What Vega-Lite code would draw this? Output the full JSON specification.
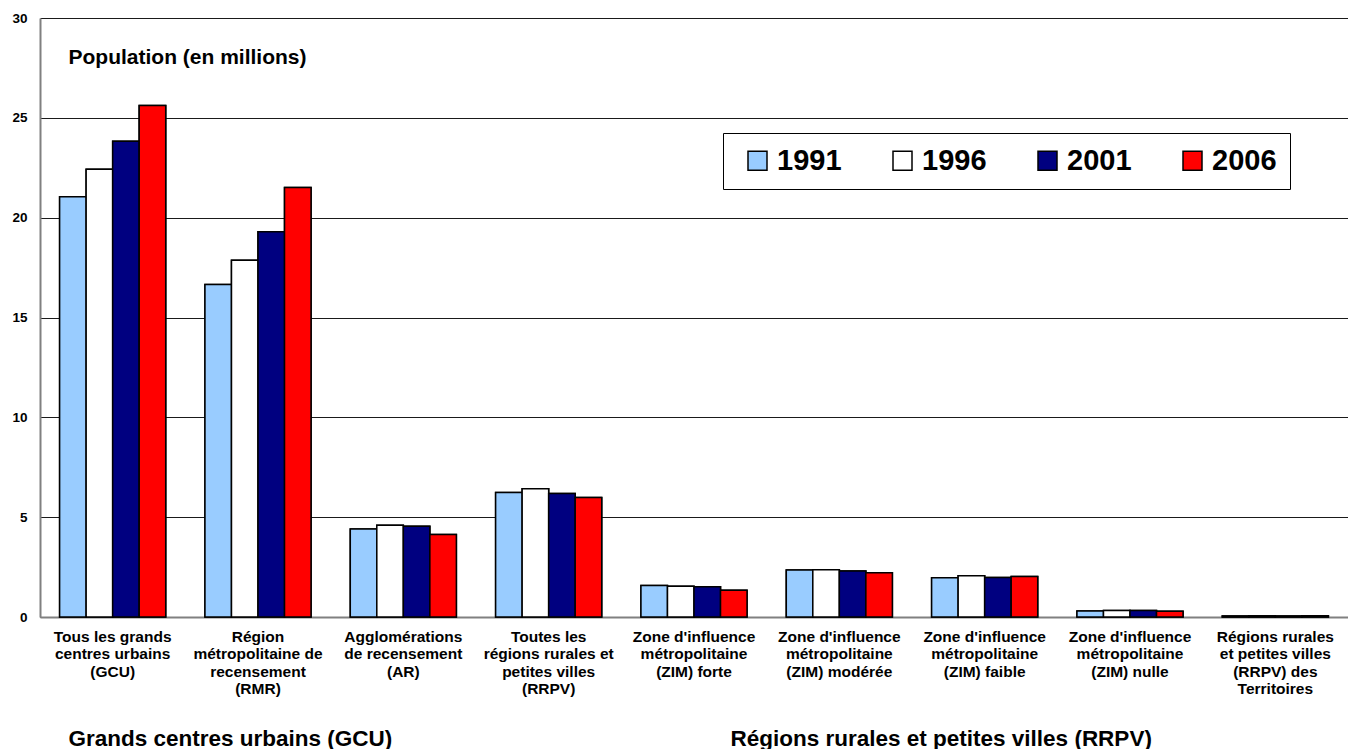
{
  "$schema": "https://vega.github.io/schema/vega-lite/v6.json",
  "width": 1308,
  "height": 599,
  "autosize": {"type": "none"},
  "padding": {"left": 40, "top": 18, "right": 0, "bottom": 132},
  "background": "white",
  "config": {"font": "Liberation Sans", "view": {"stroke": null}},
  "data": {
    "values": [
      {"zone": "Tous les grands|centres urbains|(GCU)", "annee": "1991", "pop": 21.05},
      {"zone": "Tous les grands|centres urbains|(GCU)", "annee": "1996", "pop": 22.43},
      {"zone": "Tous les grands|centres urbains|(GCU)", "annee": "2001", "pop": 23.83},
      {"zone": "Tous les grands|centres urbains|(GCU)", "annee": "2006", "pop": 25.62},
      {"zone": "Région|métropolitaine de|recensement|(RMR)", "annee": "1991", "pop": 16.65},
      {"zone": "Région|métropolitaine de|recensement|(RMR)", "annee": "1996", "pop": 17.87},
      {"zone": "Région|métropolitaine de|recensement|(RMR)", "annee": "2001", "pop": 19.29},
      {"zone": "Région|métropolitaine de|recensement|(RMR)", "annee": "2006", "pop": 21.51},
      {"zone": "Agglomérations|de recensement|(AR)", "annee": "1991", "pop": 4.41},
      {"zone": "Agglomérations|de recensement|(AR)", "annee": "1996", "pop": 4.6},
      {"zone": "Agglomérations|de recensement|(AR)", "annee": "2001", "pop": 4.55},
      {"zone": "Agglomérations|de recensement|(AR)", "annee": "2006", "pop": 4.13},
      {"zone": "Toutes les|régions rurales et|petites villes|(RRPV)", "annee": "1991", "pop": 6.23},
      {"zone": "Toutes les|régions rurales et|petites villes|(RRPV)", "annee": "1996", "pop": 6.42},
      {"zone": "Toutes les|régions rurales et|petites villes|(RRPV)", "annee": "2001", "pop": 6.18},
      {"zone": "Toutes les|régions rurales et|petites villes|(RRPV)", "annee": "2006", "pop": 5.99},
      {"zone": "Zone d'influence|métropolitaine|(ZIM) forte", "annee": "1991", "pop": 1.58},
      {"zone": "Zone d'influence|métropolitaine|(ZIM) forte", "annee": "1996", "pop": 1.54},
      {"zone": "Zone d'influence|métropolitaine|(ZIM) forte", "annee": "2001", "pop": 1.51},
      {"zone": "Zone d'influence|métropolitaine|(ZIM) forte", "annee": "2006", "pop": 1.34},
      {"zone": "Zone d'influence|métropolitaine|(ZIM) modérée", "annee": "1991", "pop": 2.35},
      {"zone": "Zone d'influence|métropolitaine|(ZIM) modérée", "annee": "1996", "pop": 2.37},
      {"zone": "Zone d'influence|métropolitaine|(ZIM) modérée", "annee": "2001", "pop": 2.3},
      {"zone": "Zone d'influence|métropolitaine|(ZIM) modérée", "annee": "2006", "pop": 2.21},
      {"zone": "Zone d'influence|métropolitaine|(ZIM) faible", "annee": "1991", "pop": 1.96},
      {"zone": "Zone d'influence|métropolitaine|(ZIM) faible", "annee": "1996", "pop": 2.06},
      {"zone": "Zone d'influence|métropolitaine|(ZIM) faible", "annee": "2001", "pop": 1.98},
      {"zone": "Zone d'influence|métropolitaine|(ZIM) faible", "annee": "2006", "pop": 2.03},
      {"zone": "Zone d'influence|métropolitaine|(ZIM) nulle", "annee": "1991", "pop": 0.3},
      {"zone": "Zone d'influence|métropolitaine|(ZIM) nulle", "annee": "1996", "pop": 0.33},
      {"zone": "Zone d'influence|métropolitaine|(ZIM) nulle", "annee": "2001", "pop": 0.33},
      {"zone": "Zone d'influence|métropolitaine|(ZIM) nulle", "annee": "2006", "pop": 0.29},
      {"zone": "Régions rurales|et petites villes|(RRPV) des|Territoires", "annee": "1991", "pop": 0.05},
      {"zone": "Régions rurales|et petites villes|(RRPV) des|Territoires", "annee": "1996", "pop": 0.06},
      {"zone": "Régions rurales|et petites villes|(RRPV) des|Territoires", "annee": "2001", "pop": 0.05},
      {"zone": "Régions rurales|et petites villes|(RRPV) des|Territoires", "annee": "2006", "pop": 0.06}
    ]
  },
  "encoding": {
    "xOffset": {"field": "annee", "type": "nominal", "sort": ["1991", "1996", "2001", "2006"]},
    "y": {
      "field": "pop",
      "type": "quantitative",
      "scale": {"domain": [0, 30], "nice": false},
      "axis": {
        "values": [0, 5, 10, 15, 20, 25, 30],
        "grid": true,
        "gridColor": "#1a1a1a",
        "gridWidth": 1,
        "ticks": false,
        "labelPadding": 13,
        "labelFontSize": 13.5,
        "labelFontWeight": "bold",
        "labelColor": "black",
        "domainColor": "#808080",
        "domainWidth": 2,
        "title": "Population (en millions)",
        "titleAngle": 0,
        "titleX": 28,
        "titleY": 39,
        "titleAlign": "left",
        "titleBaseline": "middle",
        "titleFontSize": 21,
        "titleFontWeight": "bold",
        "titleColor": "black"
      }
    },
    "fill": {
      "field": "annee",
      "type": "nominal",
      "scale": {
        "domain": ["1991", "1996", "2001", "2006"],
        "range": ["#99CCFF", "#FFFFFF", "#000080", "#FF0000"]
      },
      "legend": {
        "title": null,
        "orient": "none",
        "legendX": 683,
        "legendY": 115,
        "direction": "horizontal",
        "columns": 4,
        "symbolType": "square",
        "symbolSize": 361,
        "symbolStrokeColor": "black",
        "symbolStrokeWidth": 1.5,
        "symbolOpacity": 1,
        "symbolOffset": 7,
        "labelFontSize": 29,
        "labelFontWeight": "bold",
        "labelColor": "black",
        "labelOffset": 5,
        "columnPadding": 39,
        "padding": 13,
        "strokeColor": "black",
        "fillColor": "white"
      }
    }
  },
  "layer": [
    {
      "mark": {"type": "bar", "stroke": "black", "strokeWidth": 1.5},
      "encoding": {
        "x": {
          "field": "zone",
          "type": "nominal",
          "sort": null,
          "scale": {"paddingInner": 0.27, "paddingOuter": 0.135},
          "axis": {
            "orient": "bottom",
            "labelExpr": "split(datum.label, '|')",
            "labelAngle": 0,
            "labelFontSize": 15.5,
            "labelFontWeight": "bold",
            "labelColor": "black",
            "labelLineHeight": 17.5,
            "labelPadding": 12,
            "labelBaseline": "top",
            "labelOverlap": false,
            "labelLimit": 0,
            "ticks": false,
            "domainColor": "#808080",
            "domainWidth": 2,
            "title": "Grands centres urbains (GCU)",
            "titleX": 28,
            "titleY": 128,
            "titleAlign": "left",
            "titleAnchor": "start",
            "titleBaseline": "alphabetic",
            "titleFontSize": 22.5,
            "titleFontWeight": "bold",
            "titleColor": "black"
          }
        }
      }
    },
    {
      "mark": {"type": "bar", "stroke": "black", "strokeWidth": 1.5},
      "encoding": {
        "x": {
          "field": "zone",
          "type": "nominal",
          "sort": null,
          "axis": {
            "orient": "bottom",
            "labels": false,
            "ticks": false,
            "domain": false,
            "grid": false,
            "title": "Régions rurales et petites villes (RRPV)",
            "titleX": 690,
            "titleY": 128,
            "titleAlign": "left",
            "titleAnchor": "start",
            "titleBaseline": "alphabetic",
            "titleFontSize": 22.5,
            "titleFontWeight": "bold",
            "titleColor": "black"
          }
        }
      }
    }
  ],
  "resolve": {"axis": {"x": "independent"}}
}
